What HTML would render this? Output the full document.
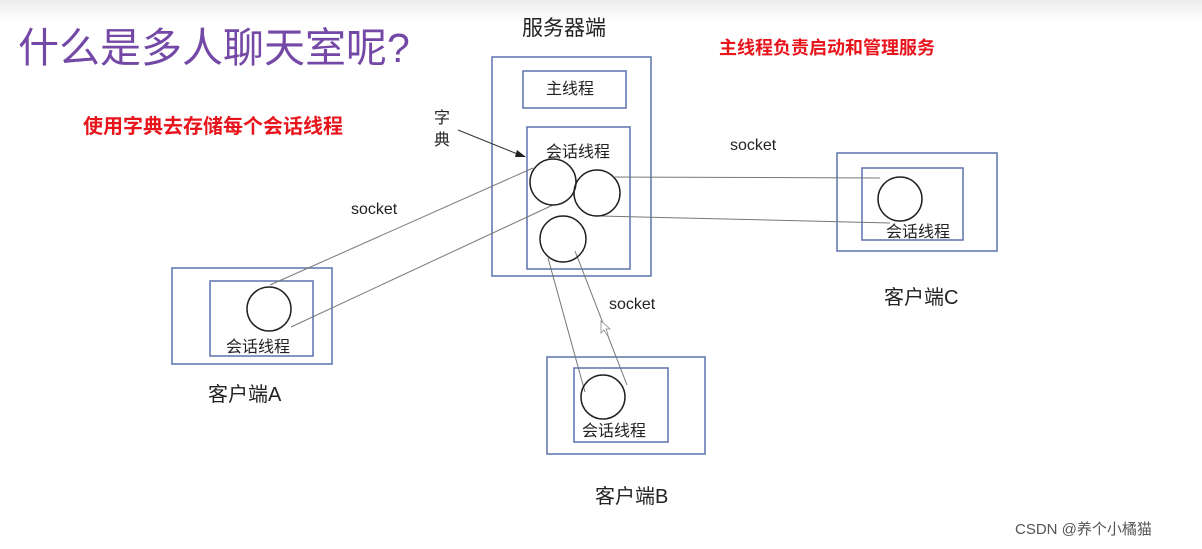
<!DOCTYPE html>
<html><head><meta charset="utf-8"><style>
html,body{margin:0;padding:0;background:#fff;}
svg{display:block;}
text{font-family:"Liberation Sans","Noto Sans CJK SC",sans-serif;}
</style></head><body>
<svg width="1202" height="549" viewBox="0 0 1202 549" xmlns="http://www.w3.org/2000/svg">
<defs><linearGradient id="g" x1="0" y1="0" x2="0" y2="1"><stop offset="0" stop-color="#ececec"/><stop offset="1" stop-color="#ffffff"/></linearGradient></defs>
<rect x="0" y="0" width="1202" height="22" fill="url(#g)"/>
<text x="18" y="62" font-size="41" fill="#7448a6">什么是多人聊天室呢?</text>
<text x="83" y="133" font-size="20" font-weight="bold" fill="#e8141c">使用字典去存储每个会话线程</text>
<text x="719" y="54" font-size="18" font-weight="bold" fill="#e8141c">主线程负责启动和管理服务</text>
<text x="522" y="35" font-size="21" fill="#222">服务器端</text>
<g fill="none" stroke="#5b72ae" stroke-width="1.5">
<rect x="492" y="57" width="159" height="219"/>
<rect x="523" y="71" width="103" height="37"/>
<rect x="527" y="127" width="103" height="142"/>
<rect x="837" y="153" width="160" height="98"/>
<rect x="862" y="168" width="101" height="72"/>
<rect x="172" y="268" width="160" height="96"/>
<rect x="210" y="281" width="103" height="75"/>
<rect x="547" y="357" width="158" height="97"/>
<rect x="574" y="368" width="94" height="74"/>
</g>
<text x="546" y="94" font-size="16" fill="#222">主线程</text>
<text x="546" y="157" font-size="16" fill="#222">会话线程</text>
<text x="434" y="123" font-size="16" fill="#222">字</text>
<text x="434" y="145" font-size="16" fill="#222">典</text>
<line x1="458" y1="130" x2="520" y2="155" stroke="#333" stroke-width="1"/>
<polygon points="526,157 517,150 515,157" fill="#222"/>
<g stroke="#777" stroke-width="1" fill="none">
<line x1="270" y1="285" x2="533" y2="168"/>
<line x1="291" y1="327" x2="553" y2="205"/>
<line x1="615" y1="177" x2="880" y2="178"/>
<line x1="600" y1="216" x2="890" y2="223"/>
<line x1="548" y1="258" x2="585" y2="392"/>
<line x1="575" y1="251" x2="627" y2="385"/>
</g>
<g fill="none" stroke="#222" stroke-width="1.5">
<circle cx="553" cy="182" r="23"/>
<circle cx="597" cy="193" r="23"/>
<circle cx="563" cy="239" r="23"/>
<circle cx="900" cy="199" r="22"/>
<circle cx="269" cy="309" r="22"/>
<circle cx="603" cy="397" r="22"/>
</g>
<text x="730" y="150" font-size="16" fill="#222">socket</text>
<text x="351" y="214" font-size="16" fill="#222">socket</text>
<text x="609" y="309" font-size="16" fill="#222">socket</text>
<text x="886" y="237" font-size="16" fill="#222">会话线程</text>
<text x="226" y="352" font-size="16" fill="#222">会话线程</text>
<text x="582" y="436" font-size="16" fill="#222">会话线程</text>
<text x="884" y="304" font-size="20" fill="#222">客户端C</text>
<text x="208" y="401" font-size="20" fill="#222">客户端A</text>
<text x="595" y="503" font-size="20" fill="#222">客户端B</text>
<path d="M601 321 L601 333 L604 330 L607 335 L608 334 L606 329 L610 329 Z" fill="#fff" stroke="#888" stroke-width="0.8"/>
<text x="1015" y="534" font-size="15" fill="#555">CSDN @养个小橘猫</text>
</svg>
</body></html>
